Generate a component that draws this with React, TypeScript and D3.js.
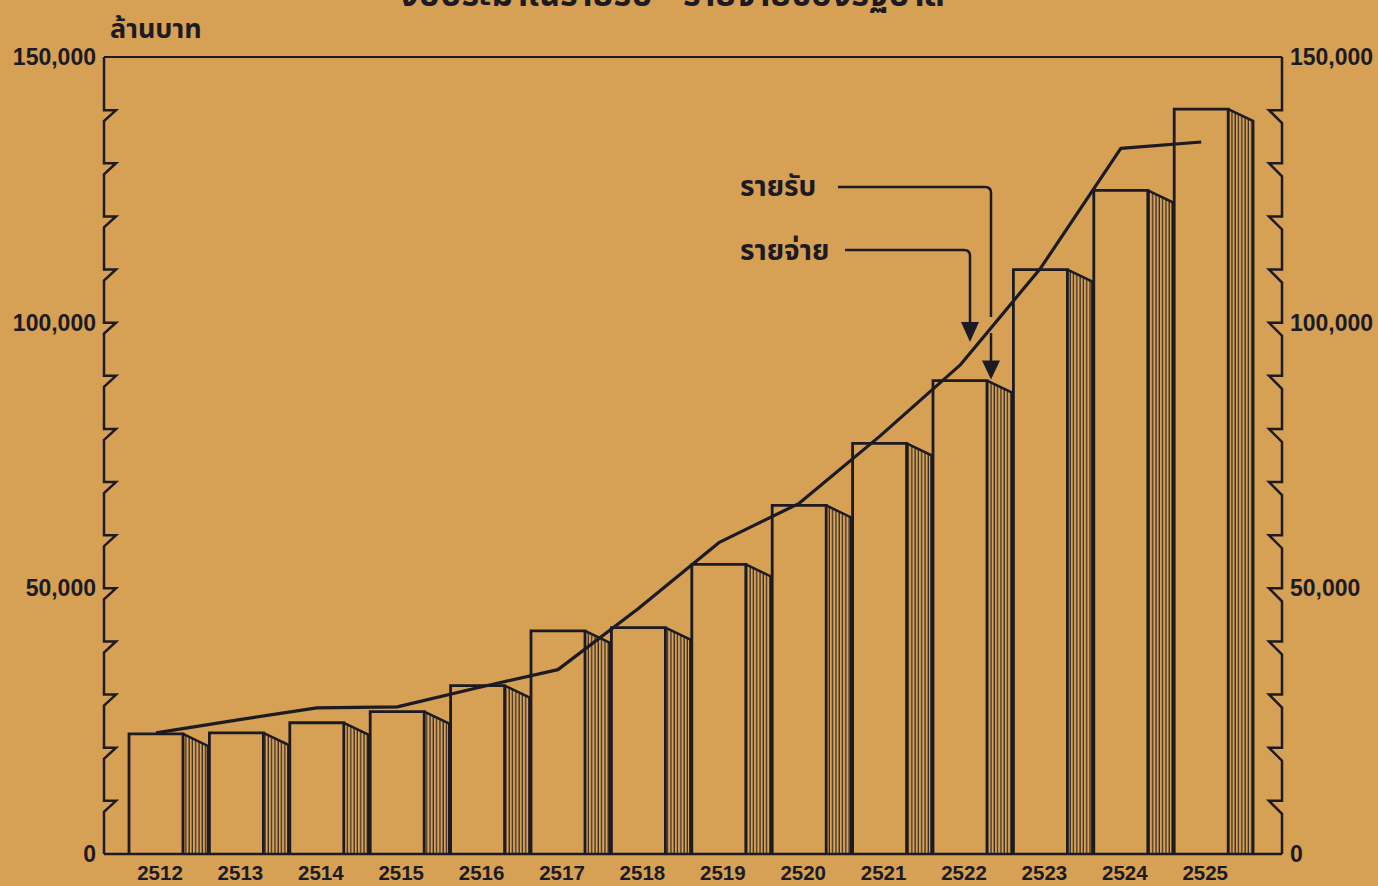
import React from "react";
import * as d3 from "d3";

const years = ["2512","2513","2514","2515","2516","2517","2518","2519","2520","2521","2522","2523","2524","2525"];
const revenue = [22.6, 22.8, 24.7, 26.8, 31.7, 42.0, 42.6, 54.5, 65.6, 77.3, 89.1, 110.0, 124.9, 140.2].map(v => v * 1000);
const expenditure = [22.8, 25.2, 27.5, 27.7, 31.3, 34.7, 46.2, 58.6, 66.0, 78.6, 92.0, 110.2, 132.8, 134.0].map(v => v * 1000);
const tickLabels = ["0", "50,000", "100,000", "150,000"];
const tickValues = [0, 50000, 100000, 150000];
const minorTicks = d3.range(10000, 150000, 10000);

const BG = "#D6A055";
const INK = "#1c1a22";
const FONT = "'Liberation Sans', Arial, 'Noto Sans Thai', 'Noto Sans', sans-serif";

export default function App() {
  const W = 1378, H = 886;
  const left = 104, right = 1282, top = 57, bottom = 854;
  const y = d3.scaleLinear().domain([0, 150000]).range([bottom, top]);
  const step = 80.4;
  const x = d3.scaleBand<string>().domain(years).range([129, 129 + step * years.length]).padding(0);
  const frontW = 54, sideW = 25, drop = 12;
  const cx = (yr: string) => (x(yr) as number) + frontW / 2;

  const line = d3.line<number>()
    .x((_, i) => cx(years[i]))
    .y(d => y(d));

  const leftAxis = (() => {
    const segs: string[] = [`M${left},${top}`];
    minorTicks.slice().reverse().forEach(t => {
      const ty = y(t);
      segs.push(`L${left},${ty} L${left + 12},${ty} L${left},${ty + 11}`);
    });
    segs.push(`L${left},${bottom}`);
    return segs.join(" ");
  })();
  const rightAxis = (() => {
    const segs: string[] = [`M${right},${top}`];
    minorTicks.slice().reverse().forEach(t => {
      const ty = y(t);
      segs.push(`L${right},${ty} L${right - 13},${ty} L${right},${ty + 13}`);
    });
    segs.push(`L${right},${bottom}`);
    return segs.join(" ");
  })();

  // annotation anchors derived from the 2522 data
  const iA = 10;
  const recvX = (x(years[iA]) as number) + frontW + 4;
  const recvTip = y(revenue[iA]) - 1;
  const expX = recvX - 21;
  const expTip = 342;

  return (
    <svg width={W} height={H} style={{ position: "absolute", left: 0, top: 0, background: BG }}>
      <defs>
        <pattern id="hatch" patternUnits="userSpaceOnUse" width="3.3" height="10">
          <line x1="1" y1="0" x2="1" y2="10" stroke={INK} strokeWidth="1.1" />
        </pattern>
      </defs>
      <rect x={0} y={0} width={W} height={H} fill={BG} />

      {/* title (cut off at top, as in the reference) */}
      <text x={672} y={6} textAnchor="middle" fontFamily={FONT} fontWeight="bold" fontSize={34} fill={INK}>
        งบประมาณรายรับ - รายจ่ายของรัฐบาล
      </text>

      {/* frame */}
      <path d={`M${left},${top} L${right},${top}`} stroke={INK} strokeWidth={2.2} fill="none" />
      <path d={`M${left},${bottom} L${right},${bottom}`} stroke={INK} strokeWidth={2.5} fill="none" />
      <path d={leftAxis} stroke={INK} strokeWidth={2.5} fill="none" strokeLinejoin="miter" />
      <path d={rightAxis} stroke={INK} strokeWidth={2.5} fill="none" strokeLinejoin="miter" />

      {/* bars */}
      {years.map((yr, i) => {
        const x0 = x(yr) as number;
        const yt = y(revenue[i]);
        const xr = x0 + frontW;
        const xs = xr + sideW;
        return (
          <g key={yr}>
            <path d={`M${xr},${yt} L${xs},${yt + drop} L${xs},${bottom} L${xr},${bottom} Z`} fill="url(#hatch)" stroke="none" />
            <path d={`M${xr},${yt} L${xs},${yt + drop} L${xs},${bottom}`} fill="none" stroke={INK} strokeWidth={2.5} />
            <path d={`M${x0},${bottom} L${x0},${yt} L${xr},${yt} L${xr},${bottom}`} fill="none" stroke={INK} strokeWidth={2.8} />
          </g>
        );
      })}

      {/* expenditure line */}
      <path d={line(expenditure) as string} fill="none" stroke={INK} strokeWidth={3.2} strokeLinejoin="round" />

      {/* tick labels */}
      {tickValues.map((t, i) => (
        <text key={"l" + t} x={96} y={y(t) + 8} textAnchor="end" fontFamily={FONT} fontWeight="bold" fontSize={23} fill={INK}>
          {tickLabels[i]}
        </text>
      ))}
      {tickValues.map((t, i) => (
        <text key={"r" + t} x={1290} y={y(t) + 8} textAnchor="start" fontFamily={FONT} fontWeight="bold" fontSize={23} fill={INK}>
          {tickLabels[i]}
        </text>
      ))}
      <text x={110} y={38} fontFamily={FONT} fontWeight="bold" fontSize={27} fill={INK}>ล้านบาท</text>

      {/* year labels */}
      {years.map(yr => (
        <text key={"y" + yr} x={cx(yr) + 4} y={880} textAnchor="middle" fontFamily={FONT} fontWeight="bold" fontSize={20.5} fill={INK}>
          {yr}
        </text>
      ))}

      {/* annotations */}
      <text x={740} y={196} fontFamily={FONT} fontWeight="bold" fontSize={28} fill={INK}>รายรับ</text>
      <path d={`M838,187 L${recvX - 6},187 Q${recvX},187 ${recvX},193 L${recvX},317 M${recvX},333 L${recvX},${recvTip - 18}`} fill="none" stroke={INK} strokeWidth={2.5} />
      <path d={`M${recvX - 9},${recvTip - 19} L${recvX + 9},${recvTip - 19} L${recvX},${recvTip} Z`} fill={INK} />

      <text x={740} y={260} fontFamily={FONT} fontWeight="bold" fontSize={28} fill={INK}>รายจ่าย</text>
      <path d={`M845,250 L${expX - 6},250 Q${expX},250 ${expX},256 L${expX},${expTip - 18}`} fill="none" stroke={INK} strokeWidth={2.5} />
      <path d={`M${expX - 9},${expTip - 20} L${expX + 9},${expTip - 20} L${expX},${expTip} Z`} fill={INK} />
    </svg>
  );
}
